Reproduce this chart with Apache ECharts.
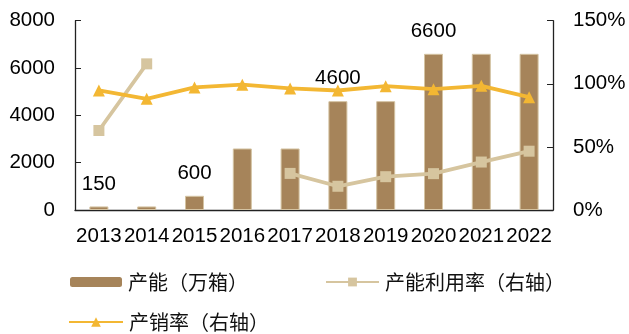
<!DOCTYPE html>
<html>
<head>
<meta charset="utf-8">
<script src="https://cdn.jsdelivr.net/npm/echarts@6/dist/echarts.min.js"></script>
<style>
  html, body { margin: 0; padding: 0; background: #fff; }
  #chart { width: 629px; height: 334px; }
</style>
</head>
<body>
<div id="chart"></div>
<script>
// Years on the category axis
const years = ['2013', '2014', '2015', '2016', '2017', '2018', '2019', '2020', '2021', '2022'];
// Capacity, 10k cases (left axis)
const capacity = [150, 150, 600, 2600, 2600, 4600, 4600, 6600, 6600, 6600];
// Bars whose value is written above them
const capacityLabelled = [true, false, true, false, false, true, false, true, false, false];
// Capacity utilisation, % (right axis); no data for 2015-2016
const utilisation = [63, 115.8, null, null, 29, 18.8, 26.4, 28.8, 38, 46.6];
// Sell-through rate, % (right axis)
const salesRate = [94.7, 88.1, 97.1, 99.3, 96.3, 94.7, 98.1, 95.7, 98.4, 89.4];
// Axis ranges
const leftMax = 8000, leftStep = 2000;
const rightMax = 150, rightStep = 50;

const names = ['产能（万箱）', '产能利用率（右轴）', '产销率（右轴）'];
const FONT = 'Liberation Sans, Arial, sans-serif';
const CJK = '"Noto Sans CJK SC", sans-serif';
const axisColor = '#222';

const chart = echarts.init(document.getElementById('chart'), null, { renderer: 'canvas' });

const legendText = { fontFamily: CJK, fontSize: 20, color: '#111', padding: [0, 0, 0, 1] };

chart.setOption({
  animation: false,
  grid: { left: 75, right: 76, top: 20.7, bottom: 124, containLabel: false },
  legend: [
    { data: [names[0]], left: 70, top: 272, padding: 0, itemWidth: 52, itemHeight: 10,
      itemStyle: { borderWidth: 0 }, textStyle: legendText },
    { data: [names[1]], left: 325, top: 272, padding: 0, itemWidth: 53, itemHeight: 11,
      textStyle: legendText },
    { data: [names[2]], left: 68, top: 312, padding: 0, itemWidth: 54, itemHeight: 12,
      textStyle: legendText }
  ],
  xAxis: {
    type: 'category',
    data: years,
    axisLine: { lineStyle: { color: axisColor, width: 1.3 } },
    axisTick: { inside: true, length: 6, lineStyle: { color: axisColor } },
    axisLabel: { fontFamily: FONT, fontSize: 20.5, color: '#000', margin: 16, interval: 0 }
  },
  yAxis: [
    {
      type: 'value', min: 0, max: leftMax, interval: leftStep,
      splitLine: { show: false },
      axisLine: { show: true, lineStyle: { color: axisColor, width: 1.3 } },
      axisTick: { show: true, inside: true, length: 6, lineStyle: { color: axisColor } },
      axisLabel: { fontFamily: FONT, fontSize: 20.5, color: '#000', margin: 20,
        formatter: v => String(v) }
    },
    {
      type: 'value', min: 0, max: rightMax, interval: rightStep,
      splitLine: { show: false },
      axisLine: { show: true, lineStyle: { color: axisColor, width: 1.3 } },
      axisTick: { show: true, inside: true, length: 6, lineStyle: { color: axisColor } },
      axisLabel: { fontFamily: FONT, fontSize: 20.5, color: '#000', margin: 20,
        formatter: v => v + '%' }
    }
  ],
  series: [
    {
      name: names[0],
      type: 'bar',
      yAxisIndex: 0,
      barWidth: 19,
      itemStyle: { color: '#A6845A', borderColor: '#D4C3A2', borderWidth: 1 },
      data: capacity.map((v, i) => ({
        value: v,
        label: {
          show: capacityLabelled[i], position: 'top', distance: 12,
          fontFamily: FONT, fontSize: 20.5, color: '#000'
        }
      }))
    },
    {
      name: names[1],
      type: 'line',
      yAxisIndex: 1,
      data: utilisation,
      connectNulls: false,
      symbol: 'rect',
      symbolSize: 11,
      lineStyle: { color: '#D6C59F', width: 3.8 },
      itemStyle: { color: '#D6C59F' }
    },
    {
      name: names[2],
      type: 'line',
      yAxisIndex: 1,
      data: salesRate,
      symbol: 'triangle',
      symbolSize: 12,
      lineStyle: { color: '#F3B733', width: 3.8 },
      itemStyle: { color: '#F3B733' }
    }
  ]
});
</script>
</body>
</html>
